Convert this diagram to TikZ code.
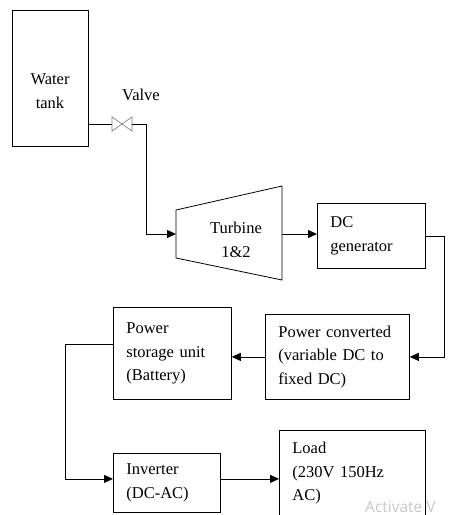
\documentclass[tikz,border=0pt]{standalone}
\usepackage{fontspec}
\setmainfont{Liberation Serif}
\newfontfamily\wmfont{Open Sans}
\usetikzlibrary{arrows.meta,calc}
\definecolor{wmgray}{RGB}{200,200,200}
\begin{document}
\begin{tikzpicture}[x=1pt,y=-1pt,
  txt/.style={font=\fontsize{16.5}{23.5}\selectfont, inner sep=0pt},
  box/.style={draw, line width=0.8pt, anchor=north west, inner xsep=13pt, inner ysep=2pt,
              align=left, font=\fontsize{16.5}{23.5}\selectfont},
  conn/.style={line width=0.8pt},
  arr/.style={conn, -{Triangle[length=9pt,width=8pt]}}]
\useasboundingbox (0,0) rectangle (449,515);

% water tank
\node[draw, line width=0.8pt, anchor=north west, inner sep=0pt,
      minimum width=76pt, minimum height=136pt] (tank) at (12,10) {};
\node[txt, align=center] (tanktxt) at (50,91) {Water\\tank};

% valve
\coordinate (vl) at (112,124);
\coordinate (vr) at (132,124);
\draw[gray, line width=0.7pt] (112,117) -- (132,131) -- (132,117) -- (112,131) -- cycle;
\node[txt] (valvetxt) at (141,95) {Valve};

% turbine
\draw[line width=0.8pt] (176,210) -- (282,186) -- (282,280) -- (176,258) -- cycle;
\coordinate (tin) at (176,234);
\coordinate (tout) at (282,234);
\node[txt, align=center] (turbtxt) at (236,240) {Turbine\\1\&2};

% boxes
\node[box, text width=82pt, minimum height=65pt] (dcgen) at (317,203) {DC\\generator};
\node[box, text width=118pt, minimum height=85pt] (pconv) at (265,314) {Power converted\\(variable DC to\\fixed DC)};
\node[box, text width=92pt, minimum height=92pt] (store) at (113,307) {Power\\storage unit\\(Battery)};
\node[box, text width=81pt, minimum height=59pt] (inv) at (113,453) {Inverter\\(DC-AC)};
\node[box, text width=120pt, minimum height=86pt] (load) at (279,430) {Load\\(230V 150Hz\\AC)};

% connectors
\coordinate (b1) at (146,124);
\draw[conn] (tank.east |- vl) -- (vl);
\draw[arr] (vr) -- (b1) |- (tin);
\draw[arr] (tout) -- (tout -| dcgen.west);
\draw[arr] (dcgen.east) -- ++(19,0) |- (pconv.east);
\draw[arr] (pconv.west) -- (pconv.west -| store.east);
\draw[arr] ($(store.west)+(0,-9)$) -- ++(-48,0) |- ($(inv.west)+(0,-4)$);
\draw[arr] (inv.east) ++(0,-4) coordinate (ie) -- (ie -| load.west);

% watermark
\node[anchor=base west, inner sep=0pt, text=wmgray, font=\wmfont\fontsize{15.5}{19}\selectfont] (wm) at (365,512) {Activate V};
\end{tikzpicture}
\end{document}
